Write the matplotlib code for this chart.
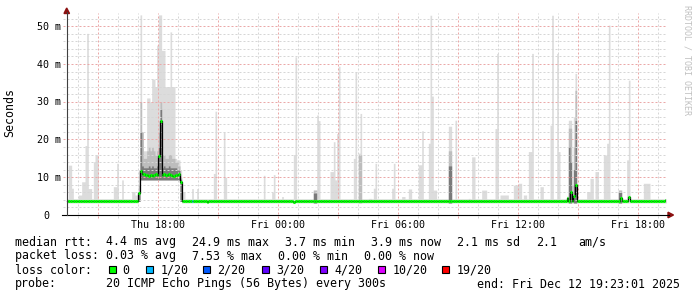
import numpy as np
import matplotlib
matplotlib.use("Agg")
import matplotlib.pyplot as plt
from matplotlib import transforms
from matplotlib.patches import Polygon, Rectangle

# ---- values (ms, one sample per 300 s) ----
first_sample = "Thu 13:25"
last_sample = "Fri 19:20"
graph_start, graph_end = "Thu 13:23", "Fri 19:23"
base_median = 3.8
base_low = 3.2
base_top = 4.3

# the slow period in the afternoon, one value per sample from Thu 17:00
busy_start = "Thu 17:00"
busy_median = [5.8, 11.6, 10.8, 10.9, 10.6, 10.7, 10.4, 10.5, 10.3, 10.6, 10.8, 10.7, 15.6,
               24.9, 10.6, 10.8, 10.5, 10.7, 10.9, 10.5, 10.4, 10.3, 10.6, 10.7, 10.8, 8.8]
busy_low = [3.6, 9.3, 9.3, 9.3, 9.3, 9.3, 9.3, 9.3, 9.3, 9.3, 9.3, 9.3, 9.3,
            9.3, 9.3, 9.3, 9.3, 9.3, 9.3, 9.3, 9.3, 9.3, 9.3, 9.3, 9.3, 3.6]
busy_top = [12, 53, 20, 17, 17, 31, 31, 30, 36, 36, 34, 45, 53,
            53, 43.6, 43.6, 34, 34, 34, 48.5, 34, 34, 15, 14.6, 14.6, 12]
busy_mid = [8, 30, 22, 15, 15, 17, 18, 17, 18, 17, 16, 17, 22,
            30, 16, 16, 15, 15, 16, 16, 15, 15, 14, 14, 13, 10]
busy_dark = [6, 22, 13, 12.5, 12.5, 12.5, 13, 12.5, 13, 12.5, 12.5, 13, 18,
             28, 12.5, 13, 12.5, 12.5, 13, 12.5, 12.5, 12.5, 12.5, 12, 12, 9.5]

# light smoke spikes (highest ping) outside the slow period
spike_from = ["Thu 13:30", "Thu 13:40", "Thu 14:00", "Thu 14:10", "Thu 14:20", "Thu 14:25",
              "Thu 14:30", "Thu 14:45", "Thu 14:50", "Thu 15:45", "Thu 15:55", "Thu 16:10",
              "Thu 16:40", "Thu 16:50", "Thu 19:10", "Thu 19:40", "Thu 19:55", "Thu 20:45",
              "Thu 20:50", "Thu 21:15", "Thu 21:20", "Thu 23:15", "Thu 23:40", "Thu 23:45",
              "Fri 00:10", "Fri 00:45", "Fri 00:50", "Fri 01:45", "Fri 01:55", "Fri 02:00",
              "Fri 02:35", "Fri 02:45", "Fri 02:50", "Fri 02:55", "Fri 03:00", "Fri 03:45",
              "Fri 03:50", "Fri 04:00", "Fri 04:05", "Fri 04:30", "Fri 04:45", "Fri 04:50",
              "Fri 05:40", "Fri 05:45", "Fri 06:10", "Fri 06:30", "Fri 07:00", "Fri 07:10",
              "Fri 07:30", "Fri 07:35", "Fri 07:40", "Fri 07:45", "Fri 08:30", "Fri 08:50",
              "Fri 09:30", "Fri 09:40", "Fri 10:10", "Fri 10:50", "Fri 10:55", "Fri 11:05",
              "Fri 11:45", "Fri 12:00", "Fri 12:15", "Fri 12:30", "Fri 12:40", "Fri 13:05",
              "Fri 13:35", "Fri 13:40", "Fri 13:55", "Fri 14:00", "Fri 14:25", "Fri 14:30",
              "Fri 14:40", "Fri 14:45", "Fri 14:50", "Fri 15:25", "Fri 15:35", "Fri 15:50",
              "Fri 16:15", "Fri 16:25", "Fri 16:30", "Fri 17:00", "Fri 17:25", "Fri 17:30",
              "Fri 18:15"]
spike_to = ["Thu 13:35", "Thu 13:40", "Thu 14:05", "Thu 14:15", "Thu 14:20", "Thu 14:25",
            "Thu 14:35", "Thu 14:45", "Thu 14:55", "Thu 15:50", "Thu 15:55", "Thu 16:10",
            "Thu 16:45", "Thu 16:55", "Thu 19:15", "Thu 19:40", "Thu 19:55", "Thu 20:45",
            "Thu 20:50", "Thu 21:15", "Thu 21:20", "Thu 23:15", "Thu 23:40", "Thu 23:45",
            "Fri 00:10", "Fri 00:45", "Fri 00:50", "Fri 01:50", "Fri 01:55", "Fri 02:00",
            "Fri 02:40", "Fri 02:45", "Fri 02:50", "Fri 02:55", "Fri 03:00", "Fri 03:45",
            "Fri 03:50", "Fri 04:00", "Fri 04:05", "Fri 04:35", "Fri 04:45", "Fri 04:50",
            "Fri 05:40", "Fri 05:45", "Fri 06:15", "Fri 06:35", "Fri 07:05", "Fri 07:10",
            "Fri 07:30", "Fri 07:35", "Fri 07:40", "Fri 07:50", "Fri 08:35", "Fri 08:50",
            "Fri 09:30", "Fri 09:45", "Fri 10:20", "Fri 10:50", "Fri 10:55", "Fri 11:25",
            "Fri 11:55", "Fri 12:05", "Fri 12:20", "Fri 12:35", "Fri 12:40", "Fri 13:10",
            "Fri 13:35", "Fri 13:40", "Fri 13:55", "Fri 14:00", "Fri 14:25", "Fri 14:35",
            "Fri 14:40", "Fri 14:45", "Fri 14:50", "Fri 15:30", "Fri 15:40", "Fri 15:55",
            "Fri 16:20", "Fri 16:25", "Fri 16:30", "Fri 17:05", "Fri 17:25", "Fri 17:30",
            "Fri 18:30"]
spike_top = [13.2, 7.1, 5.3, 8.8, 18.4, 48.1,
             7.0, 14.1, 15.9, 7.5, 13.7, 9.3,
             6.2, 5.3, 6.2, 7.0, 7.0, 11.0,
             27.5, 22.0, 10.0, 10.5, 6.0, 10.7,
             4.9, 16.0, 41.9, 6.6, 26.5, 25.0,
             11.5, 19.4, 9.3, 21.6, 39.4, 15.0,
             37.9, 16.4, 26.9, 4.4, 7.1, 13.7,
             7.1, 13.7, 4.9, 6.9, 13.3, 22.3,
             19.0, 52.9, 31.5, 6.6, 23.5, 25.1,
             4.4, 15.4, 6.6, 22.9, 42.8, 5.3,
             7.9, 8.4, 5.3, 16.8, 42.8, 7.5,
             23.8, 52.9, 42.8, 16.8, 5.0, 25.1,
             8.0, 26.0, 37.5, 6.2, 9.7, 11.5,
             15.9, 19.0, 50.3, 6.6, 14.6, 35.7,
             8.4]

# denser smoke (more pings high) in a few places
mid_from = ["Fri 01:45", "Fri 04:00", "Fri 08:30", "Fri 14:30", "Fri 14:45", "Fri 14:50", "Fri 17:00"]
mid_to = ["Fri 01:50", "Fri 04:05", "Fri 08:35", "Fri 14:35", "Fri 14:45", "Fri 14:50", "Fri 17:05"]
mid_top = [6.6, 16.0, 17.0, 23.0, 18.0, 33.0, 6.6]
dark_from = ["Fri 01:45", "Fri 08:30", "Fri 14:30", "Fri 14:35", "Fri 14:45", "Fri 14:50", "Fri 17:00"]
dark_to = ["Fri 01:50", "Fri 08:35", "Fri 14:30", "Fri 14:35", "Fri 14:45", "Fri 14:50", "Fri 17:05"]
dark_top = [5.8, 13.0, 18.0, 14.0, 12.0, 25.0, 6.0]

# median values that differ from the base line
med_time = ["Thu 15:05", "Thu 20:25", "Fri 00:45", "Fri 14:25", "Fri 14:35", "Fri 14:45",
            "Fri 14:50", "Fri 17:05", "Fri 17:30", "Fri 19:20"]
med_val = [3.6, 3.5, 3.5, 4.5, 6.2, 4.9, 7.9, 4.6, 4.8, 3.9]

# lost pings (out of 20)
loss_time = ["Thu 19:40"]
loss_count = [1]

loss_levels = [0, 1, 2, 3, 4, 10, 19]
loss_labels = ["0", "1/20", "2/20", "3/20", "4/20", "10/20", "19/20"]
loss_colors = ["#00ff00", "#00b8ff", "#0059ff", "#5e00ff", "#7e00ff", "#dd00ff", "#ff0000"]

x_ticks = ["Thu 18:00", "Fri 00:00", "Fri 06:00", "Fri 12:00", "Fri 18:00"]
y_ticks = [0, 10, 20, 30, 40, 50]
y_labels = ["0", "10 m", "20 m", "30 m", "40 m", "50 m"]


def tmin(s):
    day, hm = s.split()
    h, m = hm.split(":")
    return (0 if day == "Thu" else 1440) + int(h) * 60 + int(m)


t = np.arange(tmin(first_sample), tmin(last_sample) + 5, 5)
n = len(t)
med = np.full(n, base_median)
lo = np.full(n, base_low)
top = np.full(n, base_top)
mid = lo.copy()
dark = lo.copy()

i0 = np.searchsorted(t, tmin(busy_start))
sl = slice(i0, i0 + len(busy_median))
med[sl] = busy_median
lo[sl] = busy_low
top[sl] = busy_top
mid[sl] = busy_mid
dark[sl] = busy_dark

for a, b, v in zip(spike_from, spike_to, spike_top):
    m = (t >= tmin(a)) & (t <= tmin(b))
    top[m] = np.maximum(top[m], v)
for a, b, v in zip(mid_from, mid_to, mid_top):
    m = (t >= tmin(a)) & (t <= tmin(b))
    mid[m] = np.maximum(mid[m], v)
for a, b, v in zip(dark_from, dark_to, dark_top):
    m = (t >= tmin(a)) & (t <= tmin(b))
    dark[m] = np.maximum(dark[m], v)
for s, v in zip(med_time, med_val):
    med[t == tmin(s)] = v

loss = np.zeros(n, dtype=int)
for s, v in zip(loss_time, loss_count):
    loss[t == tmin(s)] = v
line_cols = [loss_colors[max(i for i, l in enumerate(loss_levels) if l <= v)] for v in loss]

# ---- figure ----
W, H = 697, 297
fig = plt.figure(figsize=(W / 100, H / 100), dpi=100, facecolor="white")
ax = fig.add_axes([66 / W, (H - 215) / H, 600 / W, 202 / H])
ymax = 53.5
ax.set_xlim(tmin(graph_start), tmin(graph_end))
ax.set_ylim(0, ymax)
ax.set_xticks([])
ax.set_yticks([])
for sp in ax.spines.values():
    sp.set_visible(False)

te = np.append(t, t[-1] + 5)


def ext(a):
    return np.append(a, a[-1])


ax.fill_between(te, ext(lo), ext(top), step="post", color="#dcdcdc", lw=0, zorder=1)
ax.fill_between(te, ext(lo), ext(mid), step="post", color="#bdbdbd", lw=0, zorder=1.1)
ax.fill_between(te, ext(lo), ext(dark), step="post", color="#7a7a7a", lw=0, zorder=1.2)

# grid
px_min = 3.0  # minutes per pixel
for m in range(840, tmin(graph_end), 60):
    major = m % 180 == 0
    ax.plot([m, m], [-0.8, ymax], color="#eba8a8" if major else "#d6d6d6",
            lw=0.72, ls=(0, (2, 2)), clip_on=False, zorder=2)
for v in range(2, 53, 2):
    major = v % 10 == 0
    ax.plot([tmin(graph_start) - 3 * px_min, tmin(graph_end)], [v, v],
            color="#eba8a8" if major else "#d6d6d6",
            lw=0.72, ls=(0, (2, 2)), clip_on=False, zorder=2)

# median
ax.step(te, ext(med), where="post", color="black", lw=0.9, zorder=3)
ax.hlines(med, t, t + 5, colors=line_cols, lw=2.2, zorder=4)

# axes lines and arrows
fx = lambda x: x / W
fy = lambda y: 1 - y / H
fig.add_artist(plt.Line2D([fx(62), fx(669)], [fy(215), fy(215)], color="black", lw=0.8))
fig.add_artist(plt.Line2D([fx(66.5), fx(66.5)], [fy(215), fy(12)], color="#404040", lw=0.8))
fig.add_artist(Polygon([(fx(64), fy(13.5)), (fx(69.5), fy(13.5)), (fx(66.7), fy(8))],
                       closed=True, color="#8b1010", transform=fig.transFigure))
fig.add_artist(Polygon([(fx(668), fy(212.2)), (fx(668), fy(217.8)), (fx(673.5), fy(215))],
                       closed=True, color="#8b1010", transform=fig.transFigure))

mono = "DejaVu Sans Mono"
ytr = transforms.offset_copy(transforms.blended_transform_factory(fig.transFigure, ax.transData),
                             fig=fig, y=-3.6, units="dots")
for v, lab in zip(y_ticks, y_labels):
    xr = 49 if lab == "0" else 60.5
    ax.text(fx(xr), v, lab, transform=ytr, ha="right", va="baseline",
            family=mono, fontsize=7.2, color="black")
xtr = transforms.blended_transform_factory(ax.transData, fig.transFigure)
for s in x_ticks:
    ax.text(tmin(s), fy(228), s, transform=xtr, ha="center", va="baseline",
            family=mono, fontsize=7.2, color="black")

fig.text(fx(10), fy(113), "Seconds", rotation=90, ha="center", va="center",
         family=mono, fontsize=8.4)
fig.text(fx(687.5), fy(5), "RRDTOOL / TOBI OETIKER", rotation=270, ha="center", va="top",
         family=mono, fontsize=6, color="#c0c0c0")

# legend
rows = [
    (245.5, [(16, "median rtt:"), (107, "4.4 ms avg"), (193, "24.9 ms max"), (286, "3.7 ms min"),
             (372, "3.9 ms now"), (458, "2.1 ms sd"), (536.5, "2.1"), (579, "am/s")]),
    (259.5, [(16, "packet loss:"), (107, "0.03 % avg"), (193, "7.53 % max"), (279, "0.00 % min"),
             (365, "0.00 % now")]),
    (273.5, [(16, "loss color:")]),
    (287.5, [(16, "probe:"), (107, "20 ICMP Echo Pings (56 Bytes) every 300s"),
             (478, "end: Fri Dec 12 19:23:01 2025")]),
]
for yb, items in rows:
    for x, s in items:
        fig.text(fx(x - 0.7), fy(yb), s, ha="left", va="baseline", family=mono, fontsize=8.4)

box_x = [109, 146, 203, 262, 320, 378, 442]
for bx, lab, c in zip(box_x, loss_labels, loss_colors):
    fig.add_artist(Rectangle((fx(bx), fy(272.5)), 7 / W, 7 / H, transform=fig.transFigure,
                             facecolor=c, edgecolor="black", lw=0.8))
    fig.text(fx(bx + (14 if lab == "0" else 15) - 0.7), fy(273.5), lab, ha="left",
             va="baseline", family=mono, fontsize=8.4)

fig.savefig("out.png", dpi=100, facecolor="white")
